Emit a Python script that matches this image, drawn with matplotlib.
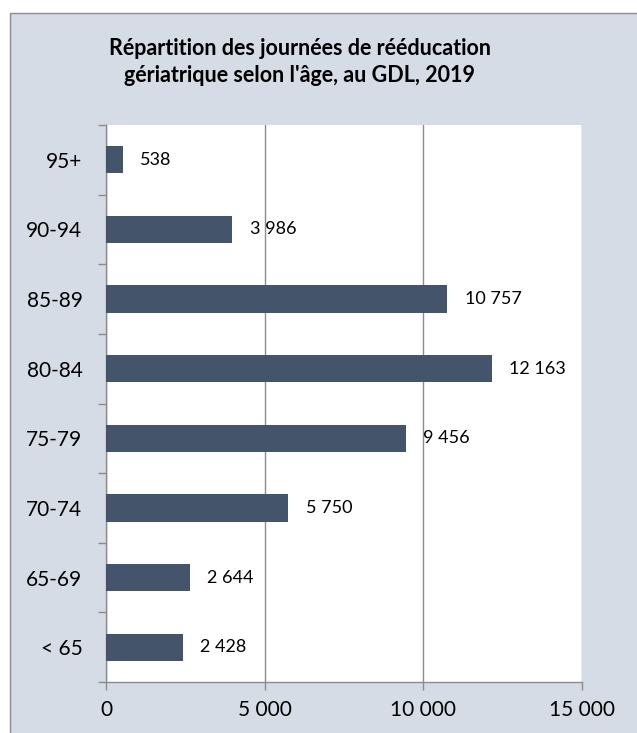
import matplotlib
matplotlib.use("Agg")
import matplotlib.pyplot as plt
from matplotlib.patches import Rectangle

categories = ["< 65", "65-69", "70-74", "75-79", "80-84", "85-89", "90-94", "95+"]
values = [2428, 2644, 5750, 9456, 12163, 10757, 3986, 538]
xticks = [0, 5000, 10000, 15000]
title = "Répartition des journées de rééducation\ngériatrique selon l'âge, au GDL, 2019"

def fmt(v):
    return f"{v:,}".replace(",", " ")

plt.rcParams['font.family'] = ['Lato', 'DejaVu Sans']

W, H = 637, 733
fig = plt.figure(figsize=(W/100, H/100), dpi=100)
fig.patch.set_facecolor("white")
bg = Rectangle((10/W, -0.01), (W)/W, (H-13)/H + 0.01, transform=fig.transFigure,
               facecolor="#d6dce5", edgecolor="#8c8c8c", linewidth=1, zorder=-10)
fig.patches.append(bg)

ax = fig.add_axes([106/W, 1-682/H, 476/W, 557/H])
ax.set_facecolor("white")
y = range(len(categories))
ax.barh(list(y), values, height=0.39, color="#44546a", zorder=3)
for i, v in enumerate(values):
    ax.annotate(fmt(v), (v, i), xytext=(12.5, 0), textcoords="offset points",
                va="center", ha="left", fontsize=13, color="black", zorder=4)

ax.set_xlim(0, 15000)
ax.set_ylim(-0.5, len(categories)-0.5)
ax.set_xticks(xticks)
ax.set_xticklabels([fmt(t) for t in xticks], fontsize=15)
ax.set_yticks(list(y))
ax.set_yticklabels(categories, fontsize=15)
ax.set_yticks([i+0.5 for i in range(-1, len(categories))], minor=True)
ax.tick_params(axis="y", which="major", length=0, pad=17)
ax.tick_params(axis="y", which="minor", length=6, color="#8c8c8c", width=1)
ax.tick_params(axis="x", length=6, color="#8c8c8c", width=1, pad=7)
ax.grid(axis="x", color="#8c8c8c", linewidth=1, zorder=0)
for s in ["top", "right"]:
    ax.spines[s].set_visible(False)
for s in ["left", "bottom"]:
    ax.spines[s].set_color("#8c8c8c")
    ax.spines[s].set_linewidth(1)

fig.text(300/W, 1-62/H, title, ha="center", va="center", fontsize=15.5,
         fontweight="bold", linespacing=1.3)

fig.savefig("out.png", dpi=100)
